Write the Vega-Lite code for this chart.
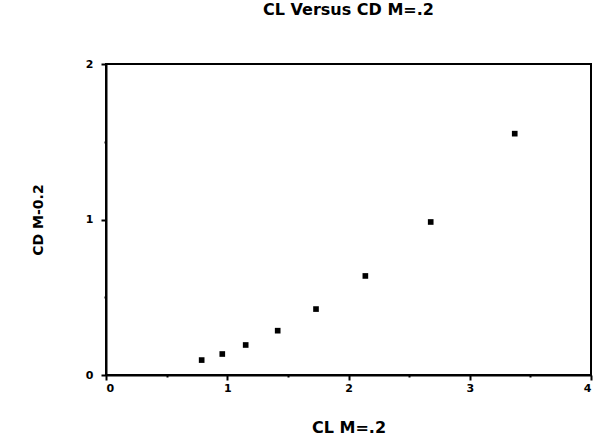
{
  "$schema": "https://vega.github.io/schema/vega-lite/v6.json",
  "autosize": "none",
  "width": 485,
  "height": 311,
  "padding": {"left": 106, "top": 64, "right": 11, "bottom": 64},
  "background": "white",
  "title": {"text": "CL Versus CD M=.2", "font": "DejaVu Sans", "fontSize": 16, "fontWeight": "bold", "color": "black", "offset": 40, "anchor": "middle"},
  "data": {"values": [
    {"CL": 0.789, "CD": 0.096},
    {"CL": 0.959, "CD": 0.135},
    {"CL": 1.152, "CD": 0.193},
    {"CL": 1.416, "CD": 0.285},
    {"CL": 1.732, "CD": 0.424},
    {"CL": 2.139, "CD": 0.637},
    {"CL": 2.678, "CD": 0.984},
    {"CL": 3.371, "CD": 1.552}
  ]},
  "mark": {"type": "point", "shape": "square", "filled": true, "size": 32, "color": "black", "opacity": 1},
  "encoding": {
    "x": {"field": "CL", "type": "quantitative", "title": "CL M=.2",
      "scale": {"domain": [0, 4], "nice": false, "zero": true},
      "axis": {"values": [0, 0.5, 1, 1.5, 2, 2.5, 3, 3.5, 4], "labelExpr": "datum.value % 1 == 0 ? format(datum.value, 'd') : ''",
        "grid": false, "domainColor": "black", "domainWidth": 2, "tickColor": "black", "tickWidth": 2,
        "tickSize": {"condition": {"test": "datum.value % 1 != 0", "value": 2}, "value": 5},
        "labelFont": "DejaVu Sans", "labelFontWeight": "bold", "labelFontSize": 11, "labelColor": "black", "labelPadding": 2,
        "titleFont": "DejaVu Sans", "titleFontWeight": "bold", "titleFontSize": 16, "titleColor": "black", "titlePadding": 26}},
    "y": {"field": "CD", "type": "quantitative", "title": "CD M-0.2",
      "scale": {"domain": [0, 2], "nice": false},
      "axis": {"values": [0, 0.5, 1, 1.5, 2], "labelExpr": "datum.value % 1 == 0 ? format(datum.value, 'd') : ''",
        "grid": false, "domainColor": "black", "domainWidth": 2, "tickColor": "black", "tickWidth": 2,
        "tickSize": {"condition": {"test": "datum.value % 1 != 0", "value": 2}, "value": 5},
        "labelFont": "DejaVu Sans", "labelFontWeight": "bold", "labelFontSize": 11, "labelColor": "black", "labelPadding": 8,
        "titleFont": "DejaVu Sans", "titleFontWeight": "bold", "titleFontSize": 14, "titleColor": "black", "titlePadding": 40}}
  },
  "config": {"view": {"stroke": "black", "strokeWidth": 2}}
}
